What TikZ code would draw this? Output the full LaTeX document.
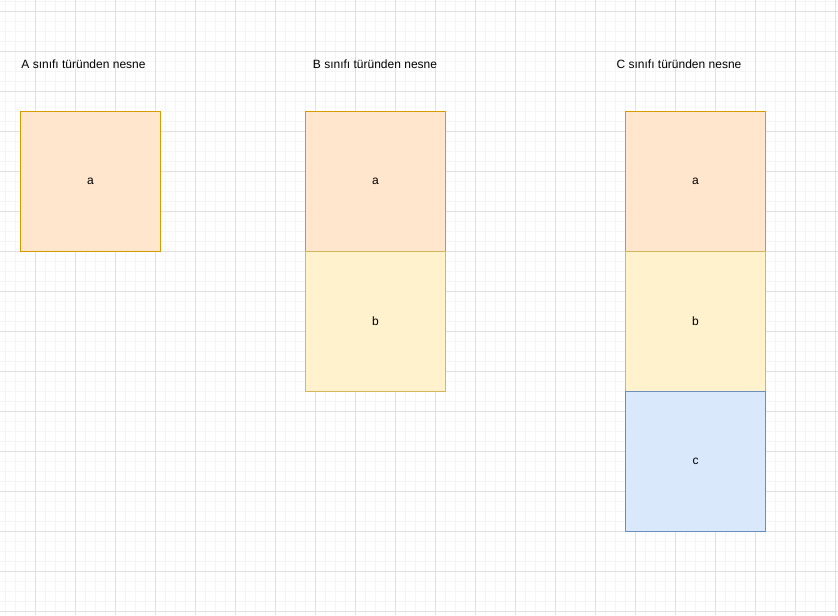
\documentclass[tikz,border=0pt]{standalone}
\usepackage{fontspec}
\setmainfont{Liberation Sans}
\definecolor{minorgrid}{HTML}{F5F5F5}
\definecolor{majorgrid}{HTML}{E1E1E1}
\definecolor{afill}{HTML}{FFE6CC}
\definecolor{adraw}{HTML}{D79B00}
\definecolor{bfill}{HTML}{FFF2CC}
\definecolor{bdraw}{HTML}{D6B656}
\definecolor{cfill}{HTML}{DAE8FC}
\definecolor{cdraw}{HTML}{6C8EBF}
\tikzset{
  cell/.style={minimum width=105pt, minimum height=105pt, inner sep=0pt, line width=0.75pt, font=\fontsize{9}{11}\selectfont, text=black},
  acell/.style={cell, fill=afill, draw=adraw},
  bcell/.style={cell, fill=bfill, draw=bdraw},
  ccell/.style={cell, fill=cfill, draw=cdraw},
  title/.style={font=\fontsize{9}{11}\selectfont, text=black, inner sep=0pt},
}
\begin{document}
\begin{tikzpicture}[x=0.75pt, y=-0.75pt]
\useasboundingbox (0,0) rectangle (838,615);
\fill[white] (0,0) rectangle (838,615);
% minor grid
\foreach \x in {5,15,...,835} \draw[minorgrid, line width=0.75pt] (\x,0) -- (\x,615);
\foreach \y in {1.5,11.5,...,611.5} \draw[minorgrid, line width=0.75pt] (0,\y) -- (838,\y);
% major grid
\foreach \x in {35,75,...,835} \draw[majorgrid, line width=0.75pt] (\x,0) -- (\x,615);
\foreach \y in {11.5,51.5,...,611.5} \draw[majorgrid, line width=0.75pt] (0,\y) -- (838,\y);
% titles
\node[title] (ta) at (83.5,64) {A sınıfı türünden nesne};
\node[title] (tb) at (375,64) {B sınıfı türünden nesne};
\node[title] (tc) at (679,64) {C sınıfı türünden nesne};
% object A
\node[acell] (aA) at (90.5,181.5) {a};
% object B
\node[acell] (aB) at (375.5,181.5) {a};
\node[bcell] (bB) at (375.5,321.5) {b};
% object C
\node[acell] (aC) at (695.5,181.5) {a};
\node[bcell] (bC) at (695.5,321.5) {b};
\node[ccell] (cC) at (695.5,461.5) {c};
\end{tikzpicture}
\end{document}
